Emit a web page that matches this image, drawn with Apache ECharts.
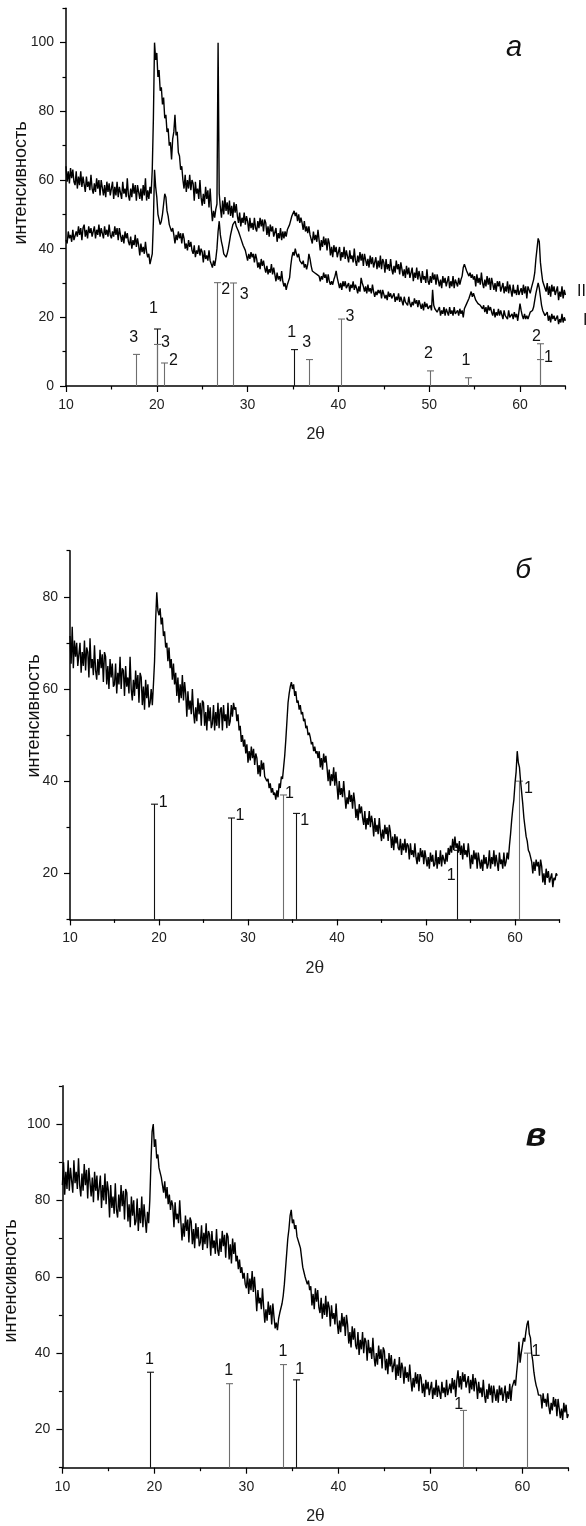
<!DOCTYPE html>
<html>
<head>
<meta charset="utf-8">
<script src="https://cdn.jsdelivr.net/npm/echarts@6/dist/echarts.min.js"></script>
<style>
  html, body { margin: 0; padding: 0; background: #fff; }
  #chart { width: 586px; height: 1526px; }
</style>
</head>
<body>
<div id="chart"></div>
<script>
// Scan grid shared by all diffractograms (degrees 2θ); one row = one degree
const TWO_THETA_START = 10;
const TWO_THETA_STEP = 0.125;

// Panel а, sample II (upper trace)
const curveA_II = [
  64, 59.5, 62.5, 59, 63.5, 60.5, 63, 59.5,
  58.5, 62.5, 57.5, 61, 58.5, 62.5, 58, 61,
  60.5, 56.5, 61, 58, 59.5, 57, 61.5, 57.5,
  56, 59, 56.5, 60.5, 57.5, 60, 55.5, 60,
  60, 55.5, 58.5, 55, 59.5, 56.5, 59, 55.5,
  56, 59.5, 54.5, 58, 55.5, 59.5, 55, 58,
  58.5, 54.5, 59.5, 56, 57.5, 55, 60.5, 55.5,
  54, 57.5, 55, 59, 56, 58.5, 54, 58.5,
  59, 54.5, 57.5, 54, 58.5, 55.5, 60.5, 54,
  57, 54.5, 58, 56, 63, 78, 100, 95,
  97, 90, 92, 86, 87, 82, 84, 78,
  79, 74, 75, 70, 71, 66, 72, 74,
  79, 73, 74, 68, 67, 63, 64, 60,
  57.5, 61.5, 56.5, 60, 57.5, 61.5, 57, 60,
  59, 54, 59.5, 56, 57.5, 54.5, 60, 55,
  52.5, 56, 53, 58, 54.5, 57, 52, 57.5,
  52, 48, 51, 49, 51.5, 53, 100, 56,
  52, 49, 54, 50, 55, 51, 53.5, 50,
  54, 49.5, 52.5, 49, 53.5, 50.5, 53, 49.5,
  47.5, 50.5, 46.5, 49, 47.5, 50.5, 47, 49.5,
  48, 45, 49, 46, 47.5, 45.5, 49, 46,
  45, 48, 46, 49, 46.5, 48.5, 45, 48.5,
  47.5, 44, 46.5, 43.5, 47, 45, 46.5, 43.5,
  43, 46, 42, 44.5, 43, 46, 42.5, 45,
  43, 45, 43.5, 45.5, 45, 47, 47.5, 49.5,
  49, 51, 49.5, 50.5, 48, 50, 47.5, 49,
  47.5, 45.5, 48, 45, 46.5, 44.5, 46.5, 44,
  44.5, 41.5, 45, 42.5, 44, 42, 45.5, 42.5,
  39.5, 42.5, 40.5, 43.5, 41, 43, 39.5, 43,
  41.5, 38, 40.5, 37.5, 41, 39, 40.5, 37.5,
  37.5, 40.5, 36.5, 39, 37.5, 40.5, 37, 39.5,
  39, 36, 39.5, 37, 38, 36, 40, 36.5,
  35, 38, 36, 39, 36.5, 38.5, 35, 38.5,
  38.5, 35, 37, 34.5, 38, 35.5, 37.5, 34.5,
  35, 37.5, 34, 36.5, 34.5, 38, 34, 37,
  36, 33, 37, 34, 35.5, 33.5, 37, 34,
  32.5, 35, 33, 36.5, 34, 35.5, 32.5, 36,
  35.5, 32, 34, 31.5, 35, 32.5, 34.5, 31.5,
  31.5, 34.5, 30.5, 33, 31.5, 34.5, 31, 33.5,
  33, 30, 33.5, 31, 32, 30, 34, 30.5,
  29.5, 32, 30, 33, 31, 32.5, 29.5, 32.5,
  32.5, 29, 31, 28.5, 32, 30, 31.5, 29,
  29.5, 32, 28.5, 30.5, 29, 32, 28.5, 31,
  30.5, 29, 31.5, 29.5, 31, 32, 34.5, 35.5,
  35, 33.5, 34, 32, 33, 31.5, 32.5, 31,
  32, 29, 32.5, 30, 31.5, 29.5, 33, 30,
  28.5, 31, 29, 32, 29.5, 31.5, 28, 31.5,
  31, 28, 30, 27.5, 30.5, 29, 30.5, 27.5,
  27.5, 30, 27, 29, 27.5, 30.5, 27, 29.5,
  29, 26, 29.5, 27, 28, 26.5, 29.5, 26.5,
  26, 28.5, 26.5, 29.5, 27, 29, 25.5, 29,
  28, 27, 28.5, 28, 31, 33, 37, 40,
  43, 42, 36, 33, 30.5, 29.5, 29, 27.5,
  30, 26.5, 29, 26, 29.5, 27.5, 29, 26.5,
  26, 29, 25, 27.5, 26, 29, 25.5, 28,
  26.5
];

// Panel а, sample I (lower trace)
const curveA_I = [
  42.5, 41.5, 45, 43, 44, 42, 45.5, 42.5,
  43, 45, 43.5, 46.5, 44, 46, 42.5, 46,
  47, 43.5, 45.5, 43, 46.5, 44.5, 46, 43.5,
  44, 46.5, 43, 45.5, 44, 47, 43.5, 46,
  46, 43, 46.5, 44, 45.5, 43.5, 47, 44,
  43, 45, 43.5, 46.5, 44, 46, 42.5, 46,
  45.5, 42, 44, 41.5, 45, 43, 44.5, 42,
  41, 43.5, 40, 42.5, 41, 44, 40.5, 43,
  41, 38, 41.5, 39, 40.5, 38.5, 42, 39,
  37.5, 38.5, 35.5, 37, 38.5, 48, 63, 58,
  55, 50, 48.5, 47, 48, 50, 53, 56,
  55, 51, 49.5, 47, 47.5, 45, 46, 44,
  41.5, 44, 42.5, 45, 43, 44.5, 41.5, 44.5,
  43, 40, 41.5, 39.5, 42.5, 40.5, 42, 39.5,
  38.5, 41, 37.5, 39.5, 38.5, 41, 38, 40,
  39, 36, 39.5, 37, 38, 36.5, 39.5, 36.5,
  35.5, 34.5, 36.5, 35, 37, 40, 45, 48,
  44, 42, 40.5, 38.5, 39, 37.5, 38.5, 40,
  42, 44, 45.5, 47, 46.5, 48, 46.5, 47,
  45, 45.5, 43, 43.5, 41, 41.5, 39.5, 40,
  36.5, 38.5, 37, 39, 37.5, 38.5, 36, 38.5,
  37, 34.5, 36, 34, 37, 35, 36.5, 34.5,
  33, 35, 32.5, 34, 33, 35.5, 32.5, 34.5,
  32.5, 30.5, 33, 31, 32, 30.5, 33.5, 30.5,
  29, 30, 28, 29.5, 30, 31.5, 35, 37.5,
  39, 38, 40, 38.5, 37.5, 38.5, 36.5, 37,
  35.5, 36.5, 34.5, 35.5, 34, 35.5, 38.5, 37,
  35, 33.5, 34, 33, 33.5, 32.5, 33, 32,
  30.5, 32, 31, 33, 31.5, 32.5, 30, 32.5,
  30.5, 29.5, 30.5, 29.5, 31, 32, 33.5, 31.5,
  31, 28.5, 30, 28, 30.5, 29, 30.5, 28.5,
  28.5, 30, 27.5, 29.5, 28.5, 30.5, 28, 29.5,
  28.5, 27, 29, 27.5, 31.5, 30, 29, 27.5,
  29, 27, 29.5, 27.5, 28.5, 27, 29.5, 27.5,
  26, 27.5, 26.5, 28, 27, 28, 25.5, 28,
  27.5, 25.5, 26.5, 25, 27.5, 26, 27, 25.5,
  25, 27, 24.5, 26, 25, 27, 24.5, 26,
  25.5, 23.5, 26, 24.5, 25, 23.5, 26, 24,
  23, 24.5, 23.5, 25.5, 24, 25, 23, 25,
  24.5, 22.5, 24, 22, 24.5, 23, 24, 22.5,
  22.5, 23.5, 22, 28, 23.5, 22.5, 23, 21.5,
  21, 23, 20.5, 22, 21, 23, 20.5, 22.5,
  22.5, 20.5, 23, 21, 22, 20.5, 23, 21,
  20.5, 22, 20.5, 22.5, 21, 22, 20, 22.5,
  23, 24, 23.5, 25.5, 26, 27.5, 26, 27,
  26, 25, 25.5, 24, 24.5, 23.5, 24, 22.5,
  23.5, 21.5, 23, 21, 23.5, 22, 23, 21.5,
  20.5, 22.5, 20, 21.5, 20.5, 22.5, 20.5, 22,
  21.5, 19.5, 22, 20.5, 21, 19.5, 22, 20,
  19.5, 21, 19.5, 21.5, 20, 21, 19, 21.5,
  24, 22, 20.5, 19.5, 21, 19.5, 20.5, 19.5,
  20.5, 21.5, 21, 22, 23, 25, 27, 28.5,
  30, 28.5, 26, 23.5, 22, 21.5, 20.5, 21,
  21.5, 19, 20.5, 18.5, 21, 19.5, 20.5, 19,
  18.5, 20.5, 18, 19.5, 18.5, 21, 18.5, 20,
  19
];

// Panel б
const curveB = [
  71.5, 65.5, 73.5, 64.5, 70.5, 67, 70, 65,
  65, 70, 63.5, 68, 65, 70.5, 64, 69,
  68, 62.5, 71, 64.5, 66.5, 63, 69.5, 64,
  62, 66.5, 63, 68.5, 64.5, 67.5, 61.5, 68,
  67, 61, 65, 60, 66.5, 62.5, 65.5, 60.5,
  61, 65.5, 59, 63.5, 61, 67, 60, 64.5,
  64, 58.5, 65, 60.5, 62.5, 59, 67, 60,
  57.5, 62, 58.5, 64, 60, 63, 57, 63.5,
  62.5, 56.5, 60.5, 55.5, 62, 58, 61, 56,
  57, 60, 56.5, 61, 66, 75, 81, 77,
  76, 77.5, 74, 75.5, 71.5, 72.5, 69, 70,
  66, 69, 64.5, 66.5, 62, 65.5, 61, 63.5,
  58.5, 62.5, 57, 61, 58, 63, 57.5, 61.5,
  59, 54, 59.5, 55.5, 57.5, 54.5, 60, 55,
  52.5, 56, 53, 58, 54.5, 57, 52, 57.5,
  57, 52, 55, 51, 56.5, 53, 56, 51.5,
  52.5, 56.5, 51, 55, 52, 57, 51.5, 55.5,
  56, 51, 56.5, 53, 54.5, 51.5, 57, 52,
  53, 56.5, 54, 57, 55.5, 56, 53, 54.5,
  51, 52, 48.5, 50, 47.5, 49, 46, 48,
  44, 46.5, 44.5, 47.5, 45, 47, 43.5, 46,
  45, 41.5, 43.5, 41, 44.5, 42.5, 44, 41,
  41, 40, 40.5, 38.5, 39.5, 37.5, 38.5, 37,
  37.5, 36, 38, 36.5, 39.5, 38.5, 41, 40.5,
  43, 45.5, 49, 53, 57, 59, 60.5, 61.5,
  60, 61, 58.5, 59.5, 57, 57.5, 55.5, 56.5,
  54.5, 55, 53, 53.5, 51.5, 52, 50, 50.5,
  49.5, 48, 48.5, 46.5, 47.5, 46, 46.5, 45,
  46.5, 43, 45, 42.5, 46, 44, 45.5, 43,
  40, 42.5, 39, 41.5, 40, 43, 39, 42,
  39, 36, 40, 37, 38.5, 36.5, 40, 37,
  34, 36.5, 35, 38, 35.5, 37, 34, 37.5,
  35.5, 32, 34, 31.5, 35, 33, 34.5, 32,
  30.5, 33.5, 29.5, 32, 30.5, 33.5, 30, 32.5,
  31, 28, 32, 29, 30.5, 28.5, 32, 29,
  27, 29.5, 27.5, 30.5, 28.5, 30, 27, 30.5,
  29, 25.5, 28, 25, 28.5, 26.5, 28, 25.5,
  25, 27.5, 24, 26.5, 25, 27.5, 24.5, 26.5,
  26, 23, 26.5, 24, 25, 23.5, 26.5, 23.5,
  22, 24.5, 22.5, 25.5, 23.5, 25, 22, 25,
  25, 21.5, 23.5, 21, 24.5, 22.5, 24, 21.5,
  22, 25, 21, 23.5, 22, 25, 21.5, 24,
  24, 22, 24.5, 22.5, 25.5, 24, 26, 24.5,
  27.5, 25, 28, 25.5, 26.5, 24.5, 27, 24,
  26, 23, 26.5, 24, 25, 23.5, 26.5, 24,
  21, 24, 22, 25, 23, 24.5, 21, 24.5,
  24.5, 21, 23, 20.5, 24, 22, 23.5, 21,
  22, 25, 21, 23.5, 22, 25, 21.5, 24,
  24, 20.5, 24.5, 22, 23, 21, 24.5, 21.5,
  22.5, 24.5, 23, 26, 28.5, 31.5, 34, 36,
  39.5, 42, 46.5, 44, 43, 40, 37.5, 35,
  32, 30, 28, 27, 25, 24.5, 23.5, 22.5,
  20, 22.5, 20.5, 23, 21.5, 22.5, 19.5, 23,
  21.5, 18, 20, 17.5, 21, 19, 20.5, 18,
  18, 20, 17, 19, 18.5, 20, 19.5
];

// Panel в
const curveV = [
  84, 90, 81.5, 87.5, 83, 90.5, 82.5, 88.5,
  89, 82, 90.5, 84.5, 87.5, 83, 91, 84,
  81, 87, 82.5, 89.5, 84, 88, 80.5, 88.5,
  88.5, 81, 86, 79.5, 87.5, 82.5, 86.5, 80,
  80.5, 86.5, 78, 84, 80, 87, 79, 85,
  82.5, 75.5, 84, 78, 81, 76.5, 84.5, 77.5,
  75.5, 81.5, 77, 84, 78.5, 82.5, 75, 83,
  82, 74.5, 79, 73, 81, 76, 80, 73.5,
  74.5, 80.5, 72, 78, 74, 81, 73, 79,
  75, 71.5, 77, 74, 80, 90, 98, 100,
  94, 96, 91, 92, 88.5, 89, 86, 86.5,
  82, 85, 80.5, 83.5, 79, 81.5, 77.5, 80,
  78.5, 73, 79.5, 75, 76.5, 74, 80, 74.5,
  69.5, 74, 70.5, 76, 72, 75, 69, 75.5,
  74.5, 68.5, 72.5, 67.5, 74, 70, 73, 68,
  69, 73.5, 67, 71.5, 68.5, 74, 67.5, 72,
  71, 65.5, 72, 67.5, 69.5, 66, 72.5, 67,
  65.5, 70, 66.5, 72, 68, 71, 65, 71.5,
  70.5, 64.5, 68.5, 63.5, 70, 66, 69, 64,
  65.5, 62, 64.5, 61, 62.5, 59.5, 61, 58,
  57, 61, 55.5, 59.5, 56.5, 61.5, 56, 60,
  56, 51, 56.5, 53, 54.5, 51.5, 57, 52,
  48, 51.5, 48.5, 53.5, 50, 52.5, 47.5, 53,
  49.5, 46.5, 48, 46, 49, 50.5, 51, 53,
  55, 58, 62, 66, 70, 72.5, 76, 77.5,
  74, 75, 72.5, 73.5, 70.5, 71, 68.5, 67.5,
  65, 62.5, 63, 60, 60.5, 58, 59, 56.5,
  57.5, 52.5, 55.5, 51.5, 57, 53.5, 56.5, 52,
  50.5, 54.5, 49, 53, 50, 55, 49.5, 53.5,
  52, 47, 52.5, 49, 50.5, 47.5, 53, 48,
  45, 48.5, 45.5, 50.5, 47, 49.5, 44.5, 50,
  47.5, 42.5, 45.5, 41.5, 47, 43.5, 46.5, 42,
  41, 45.5, 39.5, 43.5, 41, 45.5, 40, 44,
  43, 38, 43.5, 40, 41.5, 38.5, 44, 39,
  36.5, 40, 37, 42, 38.5, 41, 36, 41.5,
  40.5, 35.5, 38.5, 34.5, 40, 36.5, 39.5, 35,
  34.5, 38.5, 33, 37, 34, 39, 33.5, 37.5,
  36, 32, 36.5, 33.5, 35, 32.5, 37, 33,
  30, 33.5, 31, 35, 32, 34.5, 30, 34.5,
  33.5, 29.5, 32, 28.5, 33, 30.5, 32.5, 29,
  29, 32.5, 28, 31, 29, 33, 28.5, 31.5,
  32, 28, 32.5, 29.5, 31, 28.5, 33, 29,
  29, 32, 29.5, 33.5, 30.5, 33, 28.5, 33,
  35.5, 31, 34, 30.5, 35, 32.5, 34.5, 31,
  31, 34, 29.5, 33, 30.5, 34.5, 30, 33.5,
  32, 28, 32.5, 29.5, 31, 28.5, 33, 29,
  27, 30.5, 28, 32, 29, 31.5, 27, 31.5,
  32, 27.5, 30.5, 27, 31.5, 29, 31, 27.5,
  28, 31.5, 27, 30, 28, 32, 27.5, 31,
  30.5, 33, 31.5, 35, 38, 43, 37.5, 40,
  42, 44, 43, 45.5, 47.5, 48.5, 45, 44,
  40, 38, 35, 33, 31.5, 30.5, 29, 28.5,
  29, 25.5, 29.5, 27, 28, 26, 29.5, 26,
  24, 27, 25, 28.5, 26, 28, 23.5, 28,
  27.5, 23, 25.5, 22.5, 27, 24.5, 26.5, 23,
  24
];

// Reference line patterns: position (2θ), relative height, phase number, tone, label placement
const sticksA_pos    = [17.67, 19.97, 19.97, 20.84, 26.6, 28.41, 35.08, 36.73, 40.27, 50.14, 54.26, 62.15, 62.15];
const sticksA_height = [9.2, 16.6, 12.1, 6.7, 30.1, 30.0, 10.6, 7.7, 19.5, 4.4, 2.4, 12.3, 7.7];
const sticksA_label  = ['3', '1', '3', '2', '2', '3', '1', '3', '3', '2', '1', '2', '1'];
const sticksA_tone   = ['grey', 'dark', 'grey', 'grey', 'grey', 'grey', 'dark', 'grey', 'grey', 'grey', 'grey', 'grey', 'grey'];
const sticksA_place  = ['top', 'topHigh', 'right', 'right', 'rightDown', 'rightLow', 'top', 'top', 'right', 'top', 'top', 'topNear', 'right'];

const sticksB_pos    = [19.47, 28.08, 33.97, 35.35, 53.5, 60.5];
const sticksB_height = [35, 32, 37, 33, 25, 40];
const sticksB_label  = ['1', '1', '1', '1', '1', '1'];
const sticksB_tone   = ['dark', 'dark', 'grey', 'dark', 'dark', 'grey'];
const sticksB_place  = ['right', 'right', 'rightNear', 'rightDown', 'leftBelow', 'rightDown'];

const sticksV_pos    = [19.47, 28.08, 33.97, 35.35, 53.5, 60.5];
const sticksV_height = [35, 32, 37, 33, 25, 40];
const sticksV_label  = ['1', '1', '1', '1', '1', '1'];
const sticksV_tone   = ['dark', 'grey', 'grey', 'dark', 'grey', 'grey'];
const sticksV_place  = ['topClose', 'topClose', 'topClose', 'topRight', 'leftTop', 'right'];

// Tick labels
const xTicks  = [10, 20, 30, 40, 50, 60];
const yTicksA = [0, 20, 40, 60, 80, 100];
const yTicksB = [20, 40, 60, 80];
const yTicksV = [20, 40, 60, 80, 100];

// ---------- layout & styling ----------
const FONT = '"Liberation Sans", Arial, sans-serif';
const TONE = { dark: '#111', grey: '#6e6e6e' };
const PLACE = {
  top: [-2, -17], topHigh: [-3, -20], topNear: [-3, -7], topClose: [0, -13], topRight: [4, -10],
  right: [9, -2], rightNear: [6, -1], rightDown: [9, 7], rightLow: [11, 12],
  leftBelow: [-6, 25], leftTop: [-4, -6]
};

const panels = [
  { grid: { left: 66,   right: 20.6, top: 8.3,    bottom: 1140 },  yMin: 0,  yMax: 110, yTicks: yTicksA },
  { grid: { left: 70,   right: 26.5, top: 550.7,  bottom: 606.6 }, yMin: 10, yMax: 90,  yTicks: yTicksB },
  { grid: { left: 62.4, right: 17.6, top: 1085.8, bottom: 58.3 },  yMin: 10, yMax: 110, yTicks: yTicksV }
];

function between(list, lo, hi, step) {
  const out = [];
  for (let v = lo; v <= hi + 1e-9; v += step) if (list.indexOf(v) < 0) out.push(v);
  return out;
}

const axisLineStyle = { color: '#000', width: 1.5 };
const grids = [], xAxes = [], yAxes = [];
panels.forEach((p, i) => {
  grids.push(Object.assign({ containLabel: false }, p.grid));
  const xMinor = between(xTicks, 10, 65, 5);
  const yMinor = between(p.yTicks, p.yMin, p.yMax, 10);
  // main axes: line + short ticks
  xAxes.push({
    gridIndex: i, type: 'value', position: 'bottom', min: 10, max: 65,
    axisLine: { show: true, lineStyle: axisLineStyle },
    axisTick: { show: true, customValues: xMinor, length: 3.5, lineStyle: { color: '#000', width: 1.2 } },
    axisLabel: { show: false }, splitLine: { show: false }
  });
  // labelled axes: long ticks, tick labels and name
  xAxes.push({
    gridIndex: i, type: 'value', position: 'bottom', min: 10, max: 65,
    axisLine: { show: false },
    axisTick: { show: true, customValues: xTicks, length: 6, lineStyle: { color: '#000', width: 1.2 } },
    axisLabel: { show: true, customValues: xTicks, margin: 12, color: '#222', fontSize: 14, fontFamily: FONT },
    splitLine: { show: false },
    name: '2{t|θ}', nameLocation: 'middle', nameGap: 41,
    nameTextStyle: { color: '#222', fontSize: 16, fontFamily: FONT,
      rich: { t: { fontSize: 16, fontFamily: '"DejaVu Serif", "Liberation Serif", serif', color: '#222' } } }
  });
  yAxes.push({
    gridIndex: i, type: 'value', position: 'left', min: p.yMin, max: p.yMax,
    axisLine: { show: true, lineStyle: axisLineStyle },
    axisTick: { show: true, customValues: yMinor, length: 3.5, lineStyle: { color: '#000', width: 1.2 } },
    axisLabel: { show: false }, splitLine: { show: false }
  });
  yAxes.push({
    gridIndex: i, type: 'value', position: 'left', min: p.yMin, max: p.yMax,
    axisLine: { show: false },
    axisTick: { show: true, customValues: p.yTicks, length: 6, lineStyle: { color: '#000', width: 1.2 } },
    axisLabel: { show: true, customValues: p.yTicks, margin: 12, color: '#222', fontSize: 14, fontFamily: FONT },
    splitLine: { show: false }
  });
});

function tracePairs(values) {
  return values.map((v, k) => [TWO_THETA_START + k * TWO_THETA_STEP, v]);
}

function traceSeries(panel, values) {
  return {
    type: 'line', xAxisIndex: 2 * panel, yAxisIndex: 2 * panel,
    data: tracePairs(values), showSymbol: false, symbol: 'none',
    lineStyle: { color: '#000', width: 1.4 }, silent: true, z: 3, animation: false
  };
}

function stickSeries(panel, pos, heights, labels, tones, places) {
  return {
    type: 'custom', xAxisIndex: 2 * panel, yAxisIndex: 2 * panel, clip: false, silent: true, z: 2,
    animation: false,
    data: pos.map((x, k) => [x, heights[k]]),
    renderItem(params, api) {
      const k = params.dataIndex;
      const top = api.coord([api.value(0), api.value(1)]);
      const base = api.coord([api.value(0), panels[panel].yMin]);
      const col = TONE[tones[k]];
      const off = PLACE[places[k]];
      const x = Math.round(top[0]) + 0.5;
      return {
        type: 'group',
        children: [
          { type: 'line', shape: { x1: x, y1: base[1], x2: x, y2: top[1] }, style: { stroke: col, lineWidth: 1.1 } },
          { type: 'line', shape: { x1: x - 3.5, y1: top[1], x2: x + 3.5, y2: top[1] }, style: { stroke: col, lineWidth: 1.1 } },
          { type: 'text', x: top[0] + off[0], y: top[1] + off[1],
            style: { text: labels[k], fill: '#111', font: '16px ' + FONT, align: 'center', verticalAlign: 'middle' } }
        ]
      };
    }
  };
}

const textStyle = (text, font, extra) => Object.assign({ text, font, fill: '#111', align: 'center', verticalAlign: 'middle' }, extra || {});

const option = {
  backgroundColor: '#fff',
  animation: false,
  grid: grids,
  xAxis: xAxes,
  yAxis: yAxes,
  series: [
    stickSeries(0, sticksA_pos, sticksA_height, sticksA_label, sticksA_tone, sticksA_place),
    traceSeries(0, curveA_II),
    traceSeries(0, curveA_I),
    stickSeries(1, sticksB_pos, sticksB_height, sticksB_label, sticksB_tone, sticksB_place),
    traceSeries(1, curveB),
    stickSeries(2, sticksV_pos, sticksV_height, sticksV_label, sticksV_tone, sticksV_place),
    traceSeries(2, curveV)
  ],
  graphic: [
    { type: 'text', x: 21, y: 183, rotation: Math.PI / 2, style: textStyle('интенсивность', '18px ' + FONT) },
    { type: 'text', x: 34, y: 716, rotation: Math.PI / 2, style: textStyle('интенсивность', '18px ' + FONT) },
    { type: 'text', x: 11, y: 1281, rotation: Math.PI / 2, style: textStyle('интенсивность', '18px ' + FONT) },
    { type: 'text', x: 514, y: 48, style: textStyle('а', 'italic 29px ' + FONT) },
    { type: 'text', x: 523, y: 570, style: textStyle('б', 'italic 28px ' + FONT) },
    { type: 'text', x: 536, y: 1137, style: textStyle('в', 'italic bold 34px ' + FONT) },
    { type: 'text', x: 577, y: 292, style: textStyle('II', '16px ' + FONT, { align: 'left' }) },
    { type: 'text', x: 583, y: 321, style: textStyle('I', '16px ' + FONT, { align: 'left' }) }
  ]
};

const chart = echarts.init(document.getElementById('chart'), null, { renderer: 'canvas', width: 586, height: 1526 });
chart.setOption(option);
</script>
</body>
</html>
